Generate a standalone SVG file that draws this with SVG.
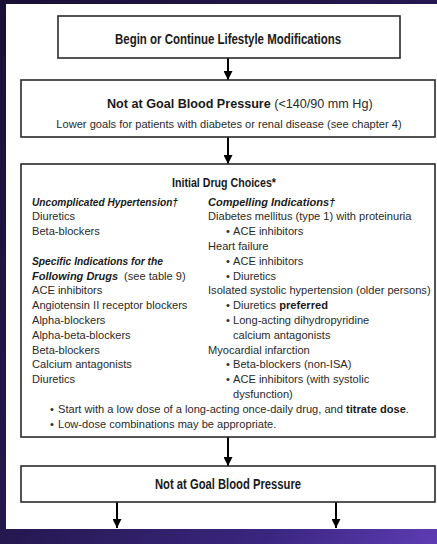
<svg xmlns="http://www.w3.org/2000/svg" width="437" height="544" viewBox="0 0 437 544">
  <defs>
    <linearGradient id="slideBg" x1="0" y1="0" x2="1" y2="1">
      <stop offset="0" stop-color="#1a1034"/>
      <stop offset="0.5" stop-color="#251850"/>
      <stop offset="0.8" stop-color="#3a2680"/>
      <stop offset="1" stop-color="#5e3cb4"/>
    </linearGradient>
    <marker id="arrowHead" viewBox="0 0 10 10" refX="10" refY="5" markerWidth="10" markerHeight="9" markerUnits="userSpaceOnUse" orient="auto">
      <path d="M0,0 L10,5 L0,10 z" fill="#000"/>
    </marker>
    <style>
      .box { fill: #fff; stroke: #2a2a2a; stroke-width: 1.6; }
      .t { font-family: "Liberation Sans", Arial, sans-serif; font-size: 11.1px; fill: #2a2a2a; }
      .h { font-family: "Liberation Sans Narrow", "Liberation Sans", Arial, sans-serif; font-weight: bold; font-size: 14px; fill: #1a1a1a; }
      .bi { font-family: "Liberation Sans", Arial, sans-serif; font-weight: bold; font-style: italic; font-size: 11px; fill: #1a1a1a; }
      .b { font-weight: bold; fill: #1a1a1a; }
      .mid { text-anchor: middle; }
      .wire { stroke: #000; stroke-width: 2; fill: none; marker-end: url(#arrowHead); }
    </style>
  </defs>

  <!-- slide background and white page -->
  <rect x="0" y="0" width="437" height="544" fill="url(#slideBg)"/>
  <rect x="6" y="4" width="431" height="525" fill="#fff"/>

  <!-- connectors -->
  <g id="connectors">
    <line class="wire" x1="228" y1="58" x2="228" y2="80"/>
    <line class="wire" x1="228" y1="137" x2="228" y2="164"/>
    <line class="wire" x1="228" y1="437" x2="228" y2="466"/>
    <line class="wire" x1="117" y1="502" x2="117" y2="528"/>
    <line class="wire" x1="336" y1="502" x2="336" y2="528"/>
  </g>

  <g id="lifestyle">
    <rect class="box" x="58" y="16" width="342" height="42"/>
    <text class="h mid" x="228" y="43.5" textLength="226" lengthAdjust="spacingAndGlyphs">Begin or Continue Lifestyle Modifications</text>
  </g>

  <g id="not-at-goal-140-90">
    <rect class="box" x="21" y="80" width="414" height="57"/>
    <text class="t" x="107" y="107.5" style="font-size:12.6px"><tspan class="b">Not at Goal Blood Pressure</tspan> (&lt;140/90 mm Hg)</text>
    <text class="t mid" x="229" y="128">Lower goals for patients with diabetes or renal disease (see chapter 4)</text>
  </g>

  <g id="initial-drug-choices">
    <rect class="box" x="21" y="164" width="414" height="273"/>
    <text class="h mid" x="224" y="186.5" style="font-size:13px" textLength="104" lengthAdjust="spacingAndGlyphs">Initial Drug Choices*</text>

    <!-- left column -->
    <text class="bi" x="32" y="205.5" textLength="146" lengthAdjust="spacingAndGlyphs">Uncomplicated Hypertension†</text>
    <text class="t" x="32" y="220.3">Diuretics</text>
    <text class="t" x="32" y="235.1">Beta-blockers</text>
    <text class="bi" x="32" y="264.7" textLength="131" lengthAdjust="spacingAndGlyphs">Specific Indications for the</text>
    <text class="bi" x="32" y="279.5">Following Drugs</text>
    <text class="t" x="124" y="279.5">(see table 9)</text>
    <text class="t" x="32" y="294.3">ACE inhibitors</text>
    <text class="t" x="32" y="309.1">Angiotensin II receptor blockers</text>
    <text class="t" x="32" y="323.9">Alpha-blockers</text>
    <text class="t" x="32" y="338.7">Alpha-beta-blockers</text>
    <text class="t" x="32" y="353.5">Beta-blockers</text>
    <text class="t" x="32" y="368.3">Calcium antagonists</text>
    <text class="t" x="32" y="383.1">Diuretics</text>

    <!-- right column -->
    <text class="bi" x="208" y="205.5">Compelling Indications†</text>
    <text class="t" x="208" y="220.3">Diabetes mellitus (type 1) with proteinuria</text>
    <text class="t" y="235.1"><tspan x="226">•</tspan><tspan x="233">ACE inhibitors</tspan></text>
    <text class="t" x="208" y="249.9">Heart failure</text>
    <text class="t" y="264.7"><tspan x="226">•</tspan><tspan x="233">ACE inhibitors</tspan></text>
    <text class="t" y="279.5"><tspan x="226">•</tspan><tspan x="233">Diuretics</tspan></text>
    <text class="t" x="208" y="294.3">Isolated systolic hypertension (older persons)</text>
    <text class="t" y="309.1"><tspan x="226">•</tspan><tspan x="233">Diuretics </tspan><tspan class="b">preferred</tspan></text>
    <text class="t" y="323.9"><tspan x="226">•</tspan><tspan x="233">Long-acting dihydropyridine</tspan></text>
    <text class="t" x="233" y="338.7">calcium antagonists</text>
    <text class="t" x="208" y="353.5">Myocardial infarction</text>
    <text class="t" y="368.3"><tspan x="226">•</tspan><tspan x="233">Beta-blockers (non-ISA)</tspan></text>
    <text class="t" y="383.1"><tspan x="226">•</tspan><tspan x="233">ACE inhibitors (with systolic</tspan></text>
    <text class="t" x="233" y="397.9">dysfunction)</text>

    <!-- general notes -->
    <text class="t" y="412.7"><tspan x="50">•</tspan><tspan x="58">Start with a low dose of a long-acting once-daily drug, and </tspan><tspan class="b">titrate dose</tspan><tspan>.</tspan></text>
    <text class="t" y="427.5"><tspan x="50">•</tspan><tspan x="58">Low-dose combinations may be appropriate.</tspan></text>
  </g>

  <g id="not-at-goal">
    <rect class="box" x="21" y="466" width="414" height="36"/>
    <text class="h mid" x="228" y="488.5" textLength="146" lengthAdjust="spacingAndGlyphs">Not at Goal Blood Pressure</text>
  </g>
</svg>
